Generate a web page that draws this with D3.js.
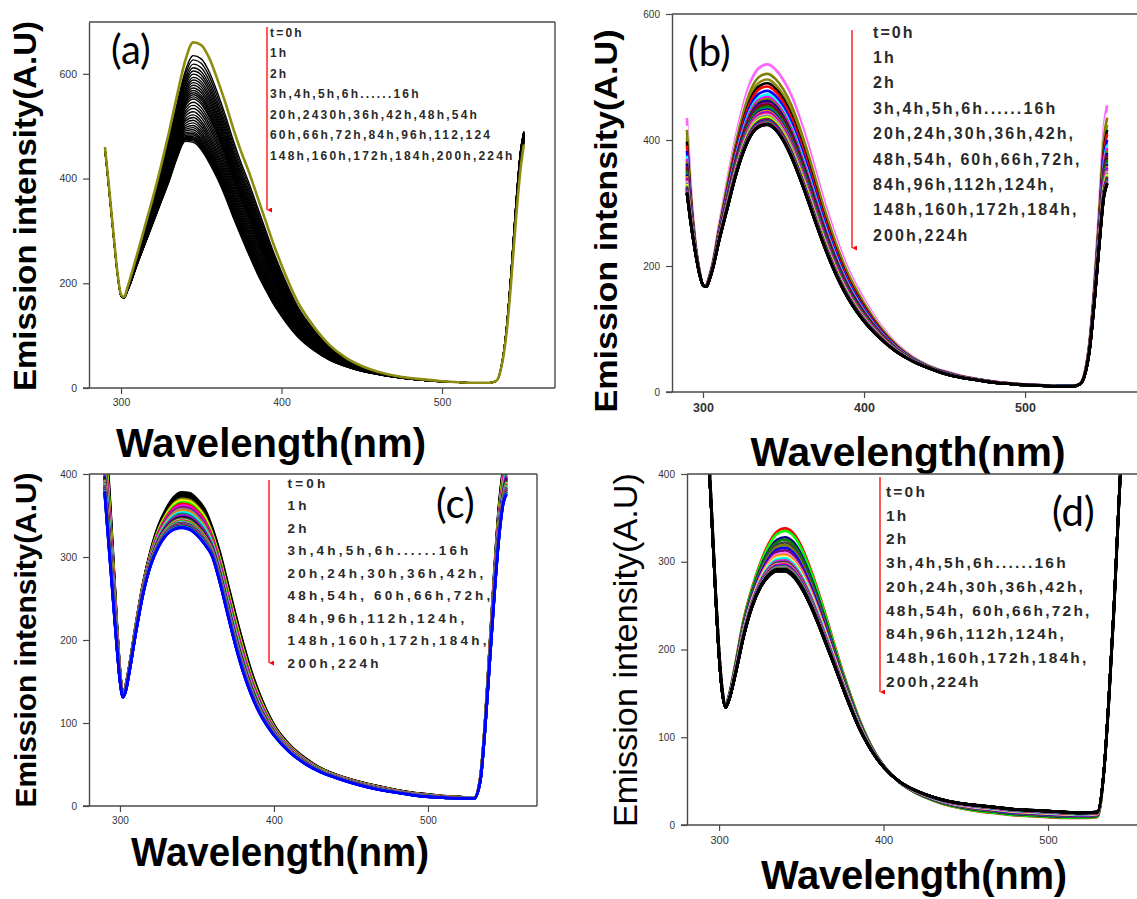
<!DOCTYPE html>
<html>
<head>
<meta charset="utf-8">
<script src="https://cdn.jsdelivr.net/npm/d3@7"></script>
<style>
  body { margin: 0; background: #fff; }
  svg { display: block; }
  .tick text { fill: #333; font-family: "Liberation Sans", Arial, sans-serif; }
</style>
</head>
<body>
<svg id="fig" width="1137" height="899"></svg>
<script>
// wavelength grid (nm) shared by all four panels
const wavelengths = [290, 292, 295, 298, 300, 302, 304, 306, 310, 315, 320, 325, 330, 335, 340, 345,
  350, 355, 360, 365, 370, 375, 380, 385, 390, 395, 400, 410, 420, 430, 440, 450, 460, 470, 480,
  490, 500, 510, 520, 530, 534, 537, 540, 543, 546, 549, 551];

const times = ["0h","1h","2h","3h","4h","5h","6h","7h","8h","9h","10h","11h","12h","13h","14h","15h","16h",
  "20h","24h","30h","36h","42h","48h","54h","60h","66h","72h","84h","96h","112h","124h",
  "148h","160h","172h","184h","200h","224h"];

// panel (a): t=0h spectrum, t=224h spectrum, peak height of each run
const topA = [460, 400, 305, 215, 178, 174, 192, 212, 255, 310, 365, 425, 490, 560, 625, 660,
  655, 630, 590, 545, 495, 450, 410, 365, 320, 275, 235, 165, 118, 82, 58, 42, 31, 24, 19,
  16, 13, 11, 10, 10, 14, 40, 100, 200, 320, 420, 465];
const lowA = [455, 395, 300, 212, 176, 172, 185, 200, 235, 275, 315, 355, 395, 440, 471, 469,
  455, 430, 400, 365, 325, 288, 252, 218, 188, 160, 137, 98, 72, 53, 41, 32, 26, 21, 17,
  14, 12, 11, 10, 10, 14, 42, 110, 220, 350, 455, 490];
const peaksA = [661, 636, 628, 620, 613, 607, 601, 595, 590, 585, 580, 575, 570, 566, 562, 558, 554,
  548, 542, 536, 530, 524, 519, 514, 509, 504, 500, 496, 492, 489, 486, 483, 481, 479, 477, 475, 472];

// panel (b)
const topB = [435, 340, 245, 190, 168, 170, 185, 205, 265, 335, 400, 455, 495, 515, 520, 512,
  495, 470, 435, 395, 350, 305, 265, 228, 196, 170, 147, 107, 77, 56, 42, 33, 26, 21, 17,
  14, 12, 11, 10, 10, 13, 30, 80, 170, 290, 420, 455];
const lowB = [315, 275, 225, 185, 170, 167, 178, 195, 240, 290, 340, 380, 408, 421, 424, 416,
  398, 372, 340, 305, 268, 233, 201, 173, 149, 129, 112, 85, 64, 49, 38, 29, 23, 19, 15,
  13, 11, 10, 9, 9, 12, 26, 65, 140, 230, 310, 330];
const peaksB = [520, 510, 505, 496, 490, 485, 478, 472, 468, 465, 462, 459, 456, 453, 450, 448, 446,
  444, 442, 440, 438, 436, 434, 433, 432, 431, 430, 429, 428, 427, 426, 425.5, 425, 424.8, 424.5, 424.2, 424];

// panel (c)
const topC = [440, 410, 320, 220, 165, 134, 148, 168, 215, 268, 308, 338, 358, 372, 378, 377,
  370, 358, 335, 305, 268, 231, 196, 164, 138, 116, 98, 74, 58, 46, 38, 32, 27, 23, 19,
  16, 14, 12, 11, 10, 35, 100, 190, 280, 360, 410, 440];
const lowC = [378, 330, 260, 190, 150, 131, 140, 160, 205, 255, 290, 312, 326, 333, 335, 333,
  326, 315, 300, 268, 230, 193, 161, 135, 114, 98, 85, 65, 51, 41, 34, 28, 23, 19, 16,
  13, 11, 10, 9, 9, 30, 90, 170, 250, 320, 365, 375];
const peaksC = [378, 376, 374, 372, 370, 368, 366, 364, 362, 360, 358, 356, 354, 352, 350, 349, 348,
  347, 346, 345, 344, 343, 342, 341.5, 341, 340.5, 340, 339.5, 339, 338.5, 338, 337.5, 337, 336.5, 336, 335.5, 335];

// panel (d)
const topD = [520, 480, 380, 265, 200, 155, 138, 148, 185, 235, 270, 298, 320, 334, 338, 333,
  318, 295, 268, 238, 206, 176, 148, 122, 100, 82, 68, 48, 36, 28, 22, 18, 15, 13, 11,
  10, 9, 8, 8, 9, 60, 140, 240, 360, 470, 560, 600];
const lowD = [520, 470, 370, 258, 192, 150, 134, 142, 172, 215, 248, 270, 283, 289, 289, 283,
  270, 252, 230, 206, 182, 157, 133, 111, 93, 78, 66, 49, 39, 32, 27, 24, 22, 20, 18,
  17, 16, 15, 14, 15, 62, 145, 245, 365, 475, 565, 605];
const peaksD = [338, 335, 328, 325, 322, 319, 316, 313, 310, 308, 306, 304, 302, 301, 300, 299, 298,
  297, 296, 295, 294.5, 294, 293.5, 293, 292.5, 292, 291.5, 291, 290.8, 290.6, 290.4, 290.2, 290, 289.8, 289.6, 289.3, 289];

// curve colours, t=0h first
const colorsA = ["#8c8c10"].concat(d3.range(36).map(() => "#000"));
const colorsB = ["#ff66ff","#ffffff","#808000","#8a8a10","#000000","#ff0000","#0000ff","#00ffff","#ff00ff",
  "#808000","#000080","#800080","#800000","#008000","#008080","#0000a0","#ff8000","#8000ff","#ff0080",
  "#c0c0c0","#808080","#ffff00","#00ff00","#404040","#ff0000","#0000ff","#008080","#800080","#808000",
  "#ff00ff","#008000","#000080","#800000","#000000","#000000","#000000","#000000"];
const colorsC = ["#000000","#000000","#000000","#000000","#808000","#ffff00","#00ff00","#ff0000","#ff00ff",
  "#800080","#808080","#ff8000","#00ffff","#008080","#ff0080","#8000ff","#000080","#800000","#008000",
  "#c0c0c0","#ff0000","#00ff00","#ff00ff","#00ffff","#808000","#0000a0","#ff8000","#008080","#800080",
  "#ff0080","#808080","#000080","#008000","#00ffff","#0000ff","#0000ff","#0000ff"];
const colorsD = ["#ff0000","#00ff00","#000080","#008000","#404040","#808000","#0000ff","#800080","#ff80ff",
  "#ff8000","#ffff80","#00ffff","#808080","#ff00ff","#008080","#800000","#c0c0c0","#ff0080","#8000ff",
  "#0000a0","#00ff00","#ff0000","#00ffff","#ff00ff","#808000","#008080","#000000","#000000","#000000",
  "#000000","#000000","#000000","#000000","#000000","#000000","#000000","#000000"];

const xTicks = [300, 400, 500];
const yTicksAB = [0, 200, 400, 600];
const yTicksCD = [0, 100, 200, 300, 400];

const legendAText = ["t=0h", "1h", "2h", "3h,4h,5h,6h......16h", "20h,2430h,36h,42h,48h,54h",
  "60h,66h,72h,84h,96h,112,124", "148h,160h,172h,184h,200h,224h"];
const legendText = ["t=0h", "1h", "2h", "3h,4h,5h,6h......16h", "20h,24h,30h,36h,42h,",
  "48h,54h, 60h,66h,72h,", "84h,96h,112h,124h,", "148h,160h,172h,184h,", "200h,224h"];

const yTitle = "Emission intensity(A.U)";
const xTitle = "Wavelength(nm)";

const panels = [
  { id: "a", top: topA, low: lowA, peaks: peaksA, colors: colorsA, lw: 1.4, lw0: 2.6,
    box: {l: 89, r: 555, t: 22, b: 388}, xd: [280.06, 570.4], yd: [0, 699], yTicks: yTicksAB,
    xFont: 10.5, xFontW: "normal", yFont: 10.5,
    yT: {x: 36, y: 206, len: 370, size: 31, w: "bold"}, xT: {x: 271, y: 457, len: 310, adj: "spacingAndGlyphs"},
    lab: {x: 111, y: 64}, leg: {x: 270, y0: 36.5, dy: 20.5, size: 12, ls: 2.2, lines: legendAText},
    arrow: {x: 267, y1: 27, y2: 216}, fullBox: true },
  { id: "b", top: topB, low: lowB, peaks: peaksB, colors: colorsB, lw: 2.6, lw0: 2.8,
    box: {l: 672, r: 1150, t: 14, b: 392}, xd: [280.75, 577.6], yd: [0, 600], yTicks: yTicksAB,
    xFont: 12.5, xFontW: "bold", yFont: 10,
    yT: {x: 617, y: 221, len: 383, size: 32, w: "bold"}, xT: {x: 908, y: 466, len: 315, adj: "spacingAndGlyphs"},
    lab: {x: 688, y: 66}, leg: {x: 873, y0: 37.5, dy: 25.4, size: 16, ls: 2.1, lines: legendText},
    arrow: {x: 852, y1: 30, y2: 254}, fullBox: false },
  { id: "c", top: topC, low: lowC, peaks: peaksC, colors: colorsC, lw: 2.6, lw0: 2.6,
    box: {l: 89, r: 537, t: 474, b: 806}, xd: [279.9, 570.8], yd: [0, 400], yTicks: yTicksCD,
    xFont: 10, xFontW: "normal", yFont: 10,
    yT: {x: 36, y: 640, len: 335, size: 29, w: "bold"}, xT: {x: 280, y: 866, len: 298, adj: "spacingAndGlyphs"},
    lab: {x: 436, y: 518}, leg: {x: 287.5, y0: 487.5, dy: 22.5, size: 13.5, ls: 3.2, lines: legendText},
    arrow: {x: 269, y1: 480, y2: 669}, fullBox: true },
  { id: "d", top: topD, low: lowD, peaks: peaksD, colors: colorsD, lw: 2.6, lw0: 2.6,
    box: {l: 687, r: 1150, t: 474, b: 825}, xd: [280.5, 562], yd: [0, 400], yTicks: yTicksCD,
    xFont: 11, xFontW: "normal", yFont: 10,
    yT: {x: 637, y: 650, len: 354, size: 33, w: "normal"}, xT: {x: 914, y: 889, len: 306, adj: "spacing"},
    lab: {x: 1052, y: 526}, leg: {x: 886, y0: 497, dy: 23.7, size: 15.5, ls: 2.2, lines: legendText},
    arrow: {x: 880, y1: 477, y2: 698}, fullBox: false }
];

const svg = d3.select("#fig");
const defs = svg.append("defs");

defs.append("marker")
  .attr("id", "arrowhead")
  .attr("viewBox", "0 0 10 10")
  .attr("refX", 5).attr("refY", 10)
  .attr("markerWidth", 5).attr("markerHeight", 6)
  .attr("markerUnits", "userSpaceOnUse")
  .attr("orient", "auto-start-reverse")
  .append("path")
  .attr("d", "M0,0 L10,0 L5,10 Z")
  .attr("fill", "#ff0000");

panels.forEach(p => {
  const x = d3.scaleLinear().domain(p.xd).range([p.box.l, p.box.r]);
  const y = d3.scaleLinear().domain(p.yd).range([p.box.b, p.box.t]);
  const g = svg.append("g").attr("class", "panel-" + p.id);

  defs.append("clipPath").attr("id", "clip-" + p.id)
    .append("rect")
    .attr("x", p.box.l).attr("y", p.box.t)
    .attr("width", p.box.r - p.box.l).attr("height", p.box.b - p.box.t);

  // each run sits between the t=0h and t=224h spectra according to its peak height
  const hi = p.peaks[0], lo = p.peaks[p.peaks.length - 1];
  const series = p.peaks.map((pk, i) => {
    const f = (pk - lo) / (hi - lo);
    return {
      time: times[i],
      color: p.colors[i],
      values: wavelengths.map((w, j) => ({w: w, v: p.low[j] + f * (p.top[j] - p.low[j])}))
    };
  });

  const line = d3.line()
    .x(d => x(d.w))
    .y(d => y(d.v))
    .curve(d3.curveMonotoneX);

  const curves = g.append("g").attr("clip-path", `url(#clip-${p.id})`);
  // (a): t=0h drawn last so the olive outline stays on top; others: later runs on top
  const order = p.id === "a" ? d3.range(series.length).reverse() : d3.range(series.length);
  curves.selectAll("path")
    .data(order.map(i => series[i]))
    .enter().append("path")
    .attr("d", d => line(d.values))
    .attr("fill", "none")
    .attr("stroke", d => d.color)
    .attr("stroke-width", d => d.time === "0h" ? p.lw0 : p.lw)
    .attr("stroke-linejoin", "round");

  // frame
  const frame = g.append("g").attr("stroke", "#4a4a4a").attr("stroke-width", 1.4).attr("fill", "none");
  frame.append("line").attr("x1", p.box.l).attr("x2", p.box.r).attr("y1", p.box.t).attr("y2", p.box.t);
  if (p.fullBox) {
    frame.append("line").attr("x1", p.box.r).attr("x2", p.box.r).attr("y1", p.box.t).attr("y2", p.box.b);
  }

  const xAxis = g.append("g")
    .attr("transform", `translate(0,${p.box.b})`)
    .call(d3.axisBottom(x).tickValues(xTicks).tickSize(6).tickPadding(5).tickSizeOuter(0));
  xAxis.selectAll("text").style("font-size", p.xFont + "px").style("font-weight", p.xFontW);

  const yAxis = g.append("g")
    .attr("transform", `translate(${p.box.l},0)`)
    .call(d3.axisLeft(y).tickValues(p.yTicks).tickSize(6).tickPadding(6).tickSizeOuter(0));
  yAxis.selectAll("text").style("font-size", p.yFont + "px");

  [xAxis, yAxis].forEach(ax => {
    ax.select(".domain").attr("stroke", "#4a4a4a").attr("stroke-width", 1.4);
    ax.selectAll(".tick line").attr("stroke", "#4a4a4a").attr("stroke-width", 1.2);
  });
  // the bottom axis line runs a little past the origin, as in the reference
  xAxis.select(".domain").attr("d", `M${p.box.l - 6},0H${p.box.r}`);

  // axis titles
  g.append("text")
    .attr("transform", `translate(${p.yT.x},${p.yT.y}) rotate(-90)`)
    .attr("text-anchor", "middle")
    .attr("textLength", p.yT.len)
    .attr("lengthAdjust", "spacingAndGlyphs")
    .style("font-family", "'Liberation Sans', Arial, sans-serif")
    .style("font-weight", p.yT.w)
    .style("font-size", p.yT.size + "px")
    .attr("fill", "#000")
    .text(yTitle);

  g.append("text")
    .attr("x", p.xT.x).attr("y", p.xT.y)
    .attr("text-anchor", "middle")
    .attr("textLength", p.xT.len)
    .attr("lengthAdjust", p.xT.adj)
    .style("font-family", "'Liberation Sans', Arial, sans-serif")
    .style("font-weight", "bold")
    .style("font-size", "40px")
    .attr("fill", "#000")
    .text(xTitle);

  // panel letter
  g.append("text")
    .attr("x", p.lab.x).attr("y", p.lab.y)
    .style("font-family", "Lato, 'Open Sans', sans-serif")
    .style("font-size", "40px")
    .attr("fill", "#000")
    .text(`(${p.id})`);

  // arrow and time list
  g.append("line")
    .attr("x1", p.arrow.x).attr("x2", p.arrow.x)
    .attr("y1", p.arrow.y1).attr("y2", p.arrow.y2 - 6)
    .attr("stroke", "#ff0000").attr("stroke-width", 1.3)
    .attr("marker-end", "url(#arrowhead)");

  g.append("g").selectAll("text")
    .data(p.leg.lines)
    .enter().append("text")
    .attr("x", p.leg.x)
    .attr("y", (d, i) => p.leg.y0 + i * p.leg.dy)
    .style("font-family", "'Liberation Sans', Arial, sans-serif")
    .style("font-weight", "bold")
    .style("font-size", p.leg.size + "px")
    .style("letter-spacing", p.leg.ls + "px")
    .attr("fill", "#2a2a2a")
    .text(d => d);
});
</script>
</body>
</html>
